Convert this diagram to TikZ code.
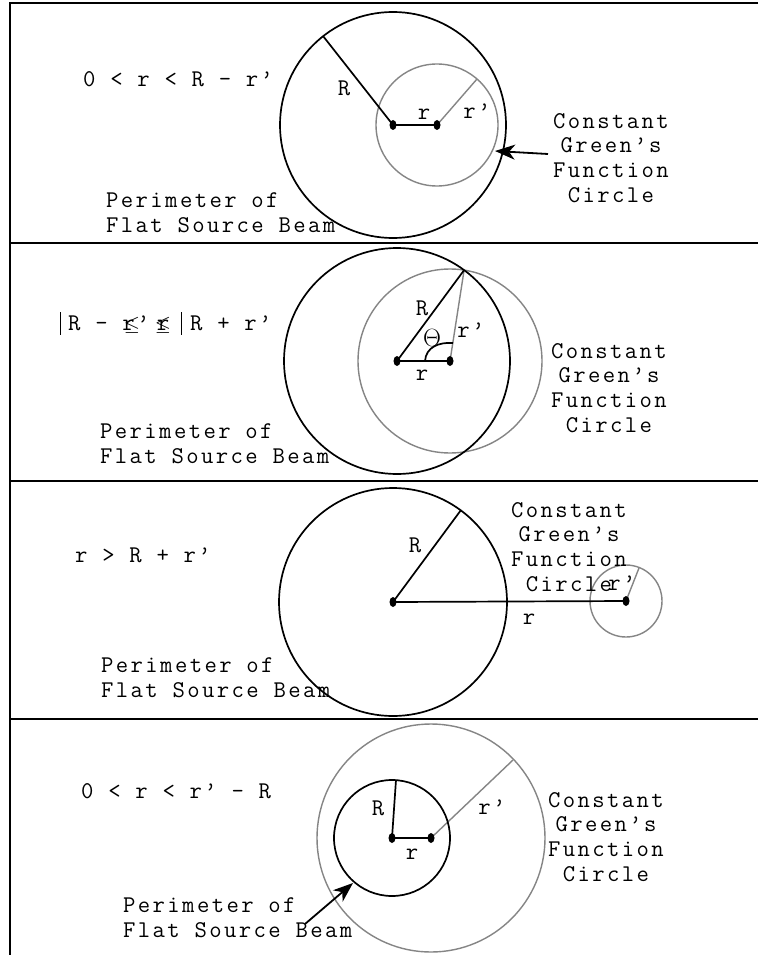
\documentclass[tikz,border=0pt]{standalone}
\usepackage{fontspec}
\newfontfamily\monofam[LetterSpace=10]{Latin Modern Mono}
\usetikzlibrary{arrows.meta}
\begin{document}
\begin{tikzpicture}[x=1pt,y=-1pt,
  frame/.style={line width=2pt},
  blk/.style={line width=1.7pt, draw=black},
  gry/.style={line width=1.4pt, draw=black!48},
  txt/.style={font=\monofam\fontsize{24}{24.6}\selectfont, inner sep=0pt},
  lbl/.style={txt, anchor=center},
  cgf/.style={txt, align=center, anchor=base},
  arw/.style={line width=1.8pt, -{Stealth[length=20pt,width=15pt,inset=6pt]}},
  dotfill/.style={fill=black}]
\useasboundingbox (0,0) rectangle (758,955);
\fill[white] (0,0) rectangle (758,955);

% frame
\coordinate (tl) at (10,3);
\coordinate (tr) at (758,3);
\coordinate (bl) at (10,955);
\coordinate (s1l) at (10,243);  \coordinate (s1r) at (758,243);
\coordinate (s2l) at (10,481);  \coordinate (s2r) at (758,481);
\coordinate (s3l) at (10,719);  \coordinate (s3r) at (758,719);
\draw[frame] (tr) -- (tl) -- (bl);
\draw[frame] (s1l) -- (s1r);
\draw[frame] (s2l) -- (s2r);
\draw[frame] (s3l) -- (s3r);

% ---------- panel 1 ----------
\coordinate (c1) at (393,125);
\coordinate (g1) at (437,125);
\coordinate (p1) at (323,36);
\coordinate (q1) at (477,79);
\draw[gry] (g1) circle[radius=61];
\draw[gry] (g1) -- (q1);
\draw[blk] (c1) circle[radius=113];
\draw[blk] (c1) -- (p1);
\draw[blk] (c1) -- (g1);
\fill[dotfill] (c1) ellipse[x radius=3.5, y radius=5];
\fill[dotfill] (g1) ellipse[x radius=3.5, y radius=5];
\node[lbl] (R1) at (344,88) {R};
\node[lbl] (r1) at (424,114) {r};
\node[lbl] (rp1) at (477,111) {r’};
\node[txt, anchor=base west] (cond1) at (83,87) {0 < r < R - r’};
\node[txt, anchor=base west, align=left] (per1) at (106,232) {Perimeter of\\Flat Source Beam};
\node[cgf] (cg1) at (611,202) {Constant\\Green’s\\Function\\Circle};
\coordinate (a1t) at (548,154);
\coordinate (a1h) at (495,151);
\draw[arw] (a1t) -- (a1h);

% ---------- panel 2 ----------
\coordinate (c2) at (397,361);
\coordinate (g2) at (450,361);
\coordinate (t2) at (464.1,270.1);
\draw[gry] (g2) circle[radius=92];
\draw[gry] (g2) -- (t2);
\draw[blk] (c2) circle[radius=113];
\draw[blk] (c2) -- (t2);
\draw[blk] (c2) -- (g2);
\coordinate (th1) at (425,361);
\coordinate (th2) at (453,343);
\draw[blk] (th1) .. controls (426,347) and (439,342) .. (th2);
\fill[dotfill] (c2) ellipse[x radius=3.5, y radius=5];
\fill[dotfill] (g2) ellipse[x radius=3.5, y radius=5];
\node[lbl] (R2) at (422,308) {R};
\node[lbl] (th) at (432,338) {\fontsize{24}{24}\selectfont$\Theta$};
\node[lbl] (rp2) at (471,330) {r’};
\node[lbl] (r2) at (422,375) {r};
\coordinate (bar1a) at (60,312); \coordinate (bar1b) at (60,335);
\coordinate (bar2a) at (181,312); \coordinate (bar2b) at (181,335);
\draw[line width=1pt] (bar1a) -- (bar1b);
\draw[line width=1pt] (bar2a) -- (bar2b);
\node[txt, anchor=base west] (cond2a) at (68,330) {R - r’};
\node[txt, anchor=base] (cond2r) at (163,330) {r};
\node[txt, anchor=base] (le1) at (132,330) {\fontsize{20}{20}\selectfont$\leq$};
\node[txt, anchor=base] (le2) at (163,330) {\fontsize{20}{20}\selectfont$\leq$};
\node[txt, anchor=base west] (cond2b) at (190,330) {R + r’};
\node[txt, anchor=base west, align=left] (per2) at (100,463) {Perimeter of\\Flat Source Beam};
\node[cgf] (cg2) at (609,432) {Constant\\Green’s\\Function\\Circle};

% ---------- panel 3 ----------
\coordinate (c3) at (393,602);
\coordinate (g3) at (626,601);
\coordinate (p3) at (461,510);
\coordinate (q3) at (639,568);
\draw[gry] (g3) circle[radius=36];
\draw[gry] (g3) -- (q3);
\draw[blk] (c3) circle[radius=114];
\draw[blk] (c3) -- (p3);
\draw[blk] (c3) -- (g3);
\fill[dotfill] (c3) ellipse[x radius=3.5, y radius=5];
\fill[dotfill] (g3) ellipse[x radius=3.5, y radius=5];
\node[lbl] (R3) at (415,545) {R};
\node[lbl] (r3) at (529,619) {r};
\node[lbl] (rp3) at (622,583) {r’};
\node[txt, anchor=base west] (cond3) at (75,562) {r > R + r’};
\node[txt, anchor=base west, align=left] (per3) at (101,697) {Perimeter of\\Flat Source Beam};
\node[cgf] (cg3) at (569,591) {Constant\\Green’s\\Function\\Circle};

% ---------- panel 4 ----------
\coordinate (c4) at (392,838);
\coordinate (g4) at (431,838);
\coordinate (p4) at (396,780);
\coordinate (q4) at (513,760);
\draw[gry] (g4) circle[radius=114];
\draw[gry] (g4) -- (q4);
\draw[blk] (c4) circle[radius=58];
\draw[blk] (c4) -- (p4);
\draw[blk] (c4) -- (g4);
\fill[dotfill] (c4) ellipse[x radius=3.5, y radius=5];
\fill[dotfill] (g4) ellipse[x radius=3.5, y radius=5];
\node[lbl] (R4) at (378,808) {R};
\node[lbl] (r4) at (412,854) {r};
\node[lbl] (rp4) at (492,807) {r’};
\node[txt, anchor=base west] (cond4) at (81,798) {0 < r < r’ - R};
\node[txt, anchor=base west, align=left] (per4) at (123,937) {Perimeter of\\Flat Source Beam};
\node[cgf] (cg4) at (606,881) {Constant\\Green’s\\Function\\Circle};
\coordinate (a4t) at (305,924);
\coordinate (a4h) at (353,883);
\draw[arw] (a4t) -- (a4h);
\end{tikzpicture}
\end{document}
